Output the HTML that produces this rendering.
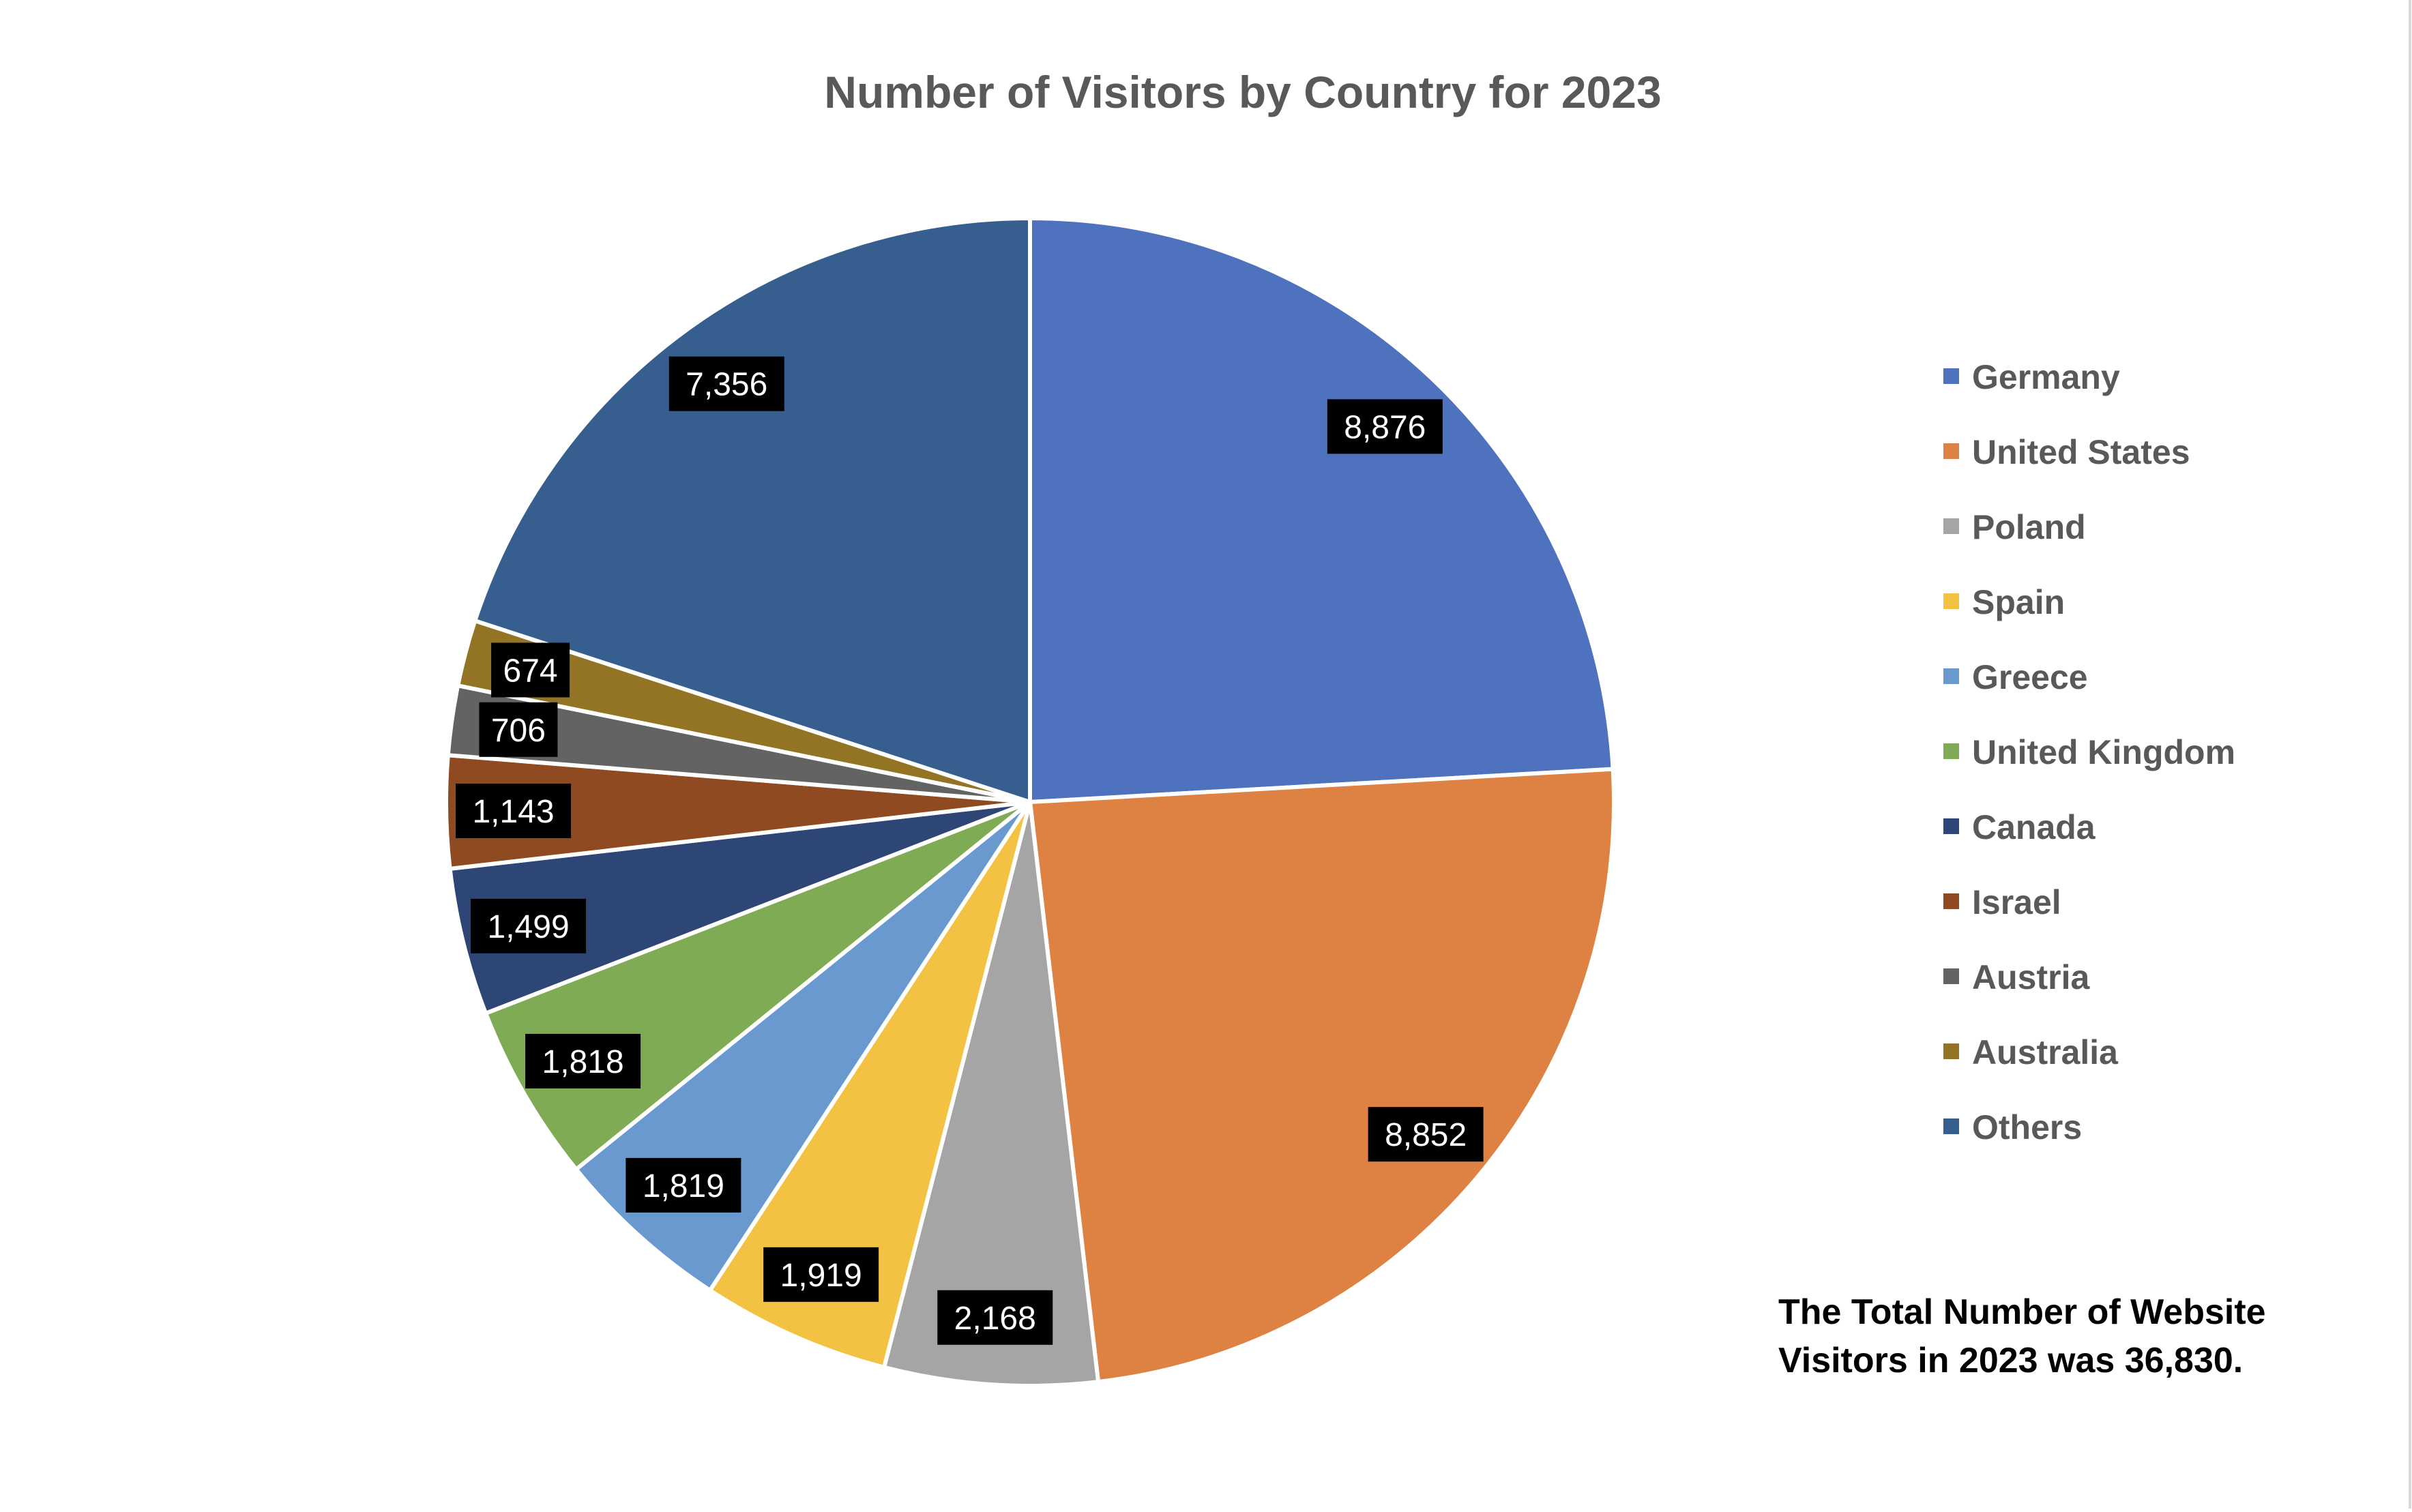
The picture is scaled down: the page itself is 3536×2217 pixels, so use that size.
<!DOCTYPE html>
<html><head><meta charset="utf-8"><style>
html,body{margin:0;padding:0;background:#fff;}
body{width:3536px;height:2212px;overflow:hidden;position:relative;font-family:"Liberation Sans",sans-serif;}
</style></head><body>
<svg id="chart" width="3536" height="2212" xmlns="http://www.w3.org/2000/svg">
<rect x="0" y="0" width="3536" height="2212" fill="#fff"/>
<line x1="3533" y1="0" x2="3533" y2="2212" stroke="#d9d9d9" stroke-width="4"/>
<text x="1822" y="158" text-anchor="middle" font-size="66" font-weight="bold" fill="#595959">Number of Visitors by Country for 2023</text>
<g id="slices"></g>
<g id="labels"></g>
<g id="legend"></g>
<text x="2607" y="1941" font-size="52" font-weight="bold" fill="#000">The Total Number of Website</text>
<text x="2607" y="2012" font-size="52" font-weight="bold" fill="#000">Visitors in 2023 was 36,830.</text>
</svg>
<script>
const categories = ["Germany","United States","Poland","Spain","Greece","United Kingdom","Canada","Israel","Austria","Australia","Others"];
const values = [8876,8852,2168,1919,1819,1818,1499,1143,706,674,7356];
const colors = ["#4F72BE","#DE8244","#A5A5A5","#F4C242","#6A99D0","#7FAB55","#2E4675","#8F4A21","#636363","#937424","#365E8E"];
const NS="http://www.w3.org/2000/svg";
const cx=1510, cy=1176, r=856;
const total=values.reduce((a,b)=>a+b,0);
function angleOf(v){return v/total*2*Math.PI;}
function pt(a,rad){return [cx+rad*Math.sin(a), cy-rad*Math.cos(a)];}
function fmt(v){return v.toLocaleString("en-US");}
const sg=document.getElementById("slices"), lg=document.getElementById("labels"), leg=document.getElementById("legend");
let acc=0;
values.forEach((v,i)=>{
  const a0=acc, a1=acc+angleOf(v); acc=a1;
  const p0=pt(a0,r), p1=pt(a1,r);
  const large=(a1-a0)>Math.PI?1:0;
  const p=document.createElementNS(NS,"path");
  p.setAttribute("d",`M${cx},${cy} L${p0[0]},${p0[1]} A${r},${r} 0 ${large} 1 ${p1[0]},${p1[1]} Z`);
  p.setAttribute("fill",colors[i]);
  p.setAttribute("stroke","#fff");
  p.setAttribute("stroke-width","6");
  p.setAttribute("stroke-linejoin","round");
  
  
  sg.appendChild(p);
  const am=(a0+a1)/2;
  const lp=pt(am,r*0.885);
  const txt=fmt(v);
  const w=txt.length*27+34, h=80;
  const g=document.createElementNS(NS,"g");
  
  
  const b=document.createElementNS(NS,"rect");
  b.setAttribute("x",lp[0]-w/2); b.setAttribute("y",lp[1]-h/2);
  b.setAttribute("width",w); b.setAttribute("height",h); b.setAttribute("fill","#000");
  g.appendChild(b);
  const t=document.createElementNS(NS,"text");
  t.setAttribute("x",lp[0]); t.setAttribute("y",lp[1]+17);
  t.setAttribute("text-anchor","middle"); t.setAttribute("font-size","48"); t.setAttribute("fill","#fff");
  t.textContent=txt;
  g.appendChild(t);
  lg.appendChild(g);
  const ly=552+i*110;
  const e=document.createElementNS(NS,"g");
  
  
  const m=document.createElementNS(NS,"rect");
  m.setAttribute("x",2849); m.setAttribute("y",ly-12); m.setAttribute("width",23); m.setAttribute("height",23);
  m.setAttribute("fill",colors[i]);
  e.appendChild(m);
  const lt=document.createElementNS(NS,"text");
  lt.setAttribute("x",2891); lt.setAttribute("y",ly+18);
  lt.setAttribute("font-size","50"); lt.setAttribute("font-weight","bold"); lt.setAttribute("fill","#595959");
  lt.textContent=categories[i];
  e.appendChild(lt);
  leg.appendChild(e);
});
</script>
</body></html>
